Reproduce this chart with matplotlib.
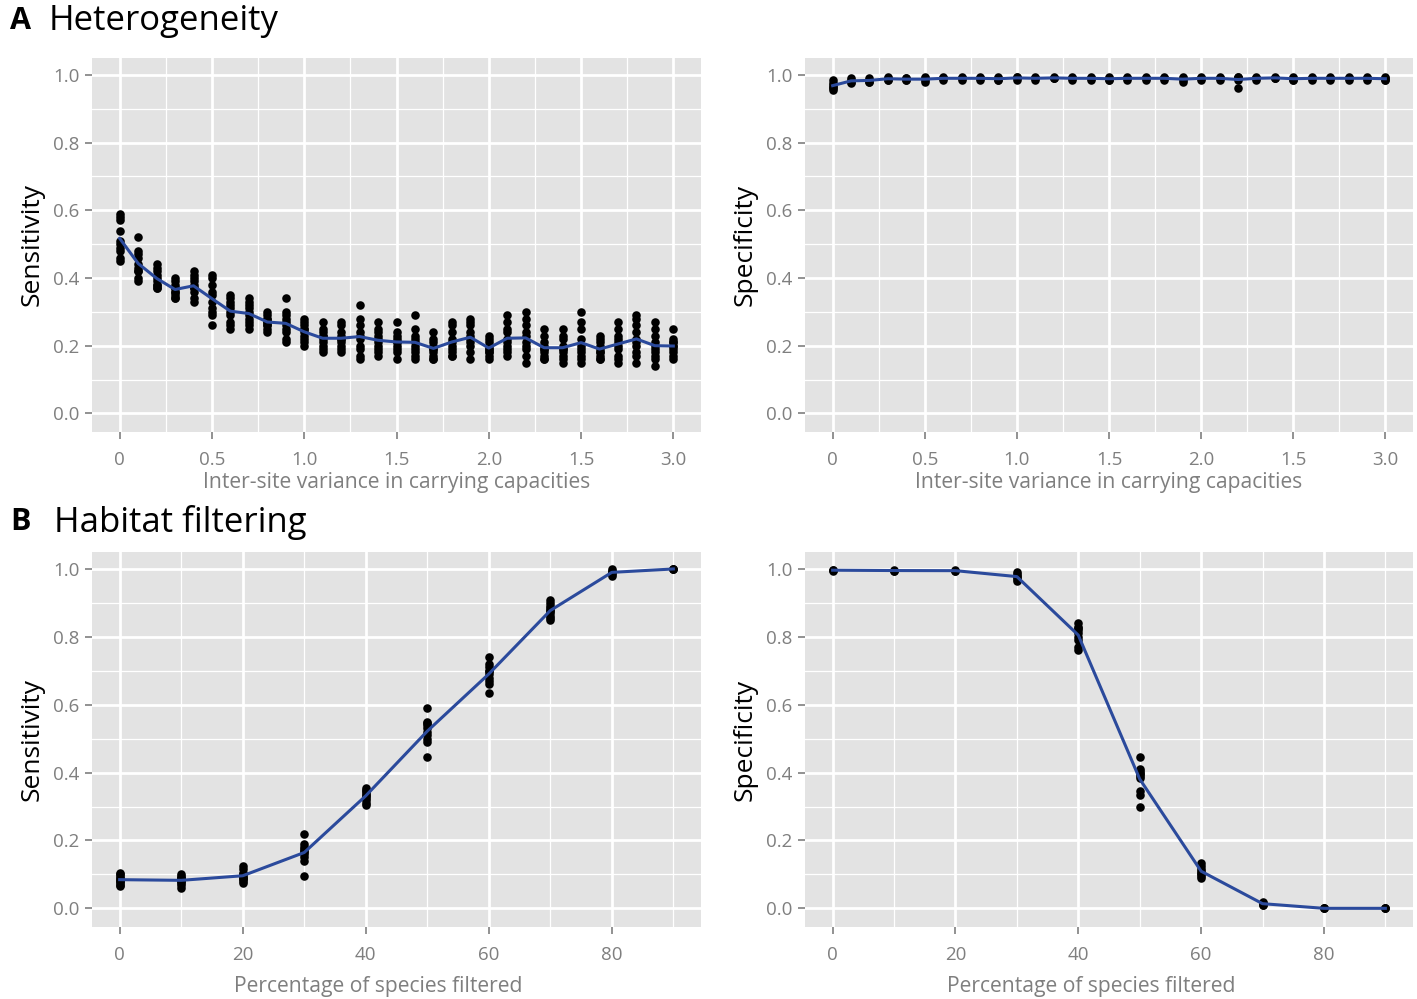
import numpy as np
import matplotlib.pyplot as plt
from matplotlib.ticker import MultipleLocator

plt.rcParams['font.family'] = ['Open Sans', 'DejaVu Sans']

# --- A: heterogeneity (inter-site variance in carrying capacities) ---
het_x = [0.0, 0.1, 0.2, 0.3, 0.4, 0.5, 0.6, 0.7, 0.8, 0.9, 1.0,
         1.1, 1.2, 1.3, 1.4, 1.5, 1.6, 1.7, 1.8, 1.9, 2.0,
         2.1, 2.2, 2.3, 2.4, 2.5, 2.6, 2.7, 2.8, 2.9, 3.0]
het_ticks = [0, 0.5, 1.0, 1.5, 2.0, 2.5, 3.0]
het_ticklabels = ['0', '0.5', '1.0', '1.5', '2.0', '1.5', '3.0']

het_sens = [
    [0.59, 0.58, 0.57, 0.54, 0.51, 0.50, 0.49, 0.48, 0.46, 0.45],
    [0.52, 0.48, 0.47, 0.46, 0.44, 0.43, 0.42, 0.40, 0.39, 0.42],
    [0.44, 0.43, 0.42, 0.41, 0.40, 0.39, 0.38, 0.38, 0.37, 0.37],
    [0.40, 0.39, 0.38, 0.37, 0.37, 0.36, 0.36, 0.35, 0.34, 0.34],
    [0.42, 0.41, 0.40, 0.39, 0.38, 0.37, 0.36, 0.34, 0.33, 0.37],
    [0.41, 0.40, 0.38, 0.36, 0.35, 0.33, 0.31, 0.30, 0.29, 0.26],
    [0.35, 0.34, 0.33, 0.32, 0.31, 0.30, 0.29, 0.27, 0.26, 0.25],
    [0.34, 0.33, 0.32, 0.31, 0.30, 0.29, 0.28, 0.27, 0.26, 0.25],
    [0.30, 0.29, 0.28, 0.28, 0.27, 0.27, 0.26, 0.26, 0.25, 0.24],
    [0.34, 0.30, 0.29, 0.28, 0.27, 0.26, 0.25, 0.24, 0.22, 0.21],
    [0.28, 0.27, 0.26, 0.25, 0.25, 0.24, 0.23, 0.22, 0.21, 0.20],
    [0.27, 0.25, 0.24, 0.23, 0.23, 0.22, 0.21, 0.20, 0.19, 0.18],
    [0.27, 0.26, 0.24, 0.23, 0.22, 0.22, 0.21, 0.20, 0.19, 0.18],
    [0.32, 0.28, 0.26, 0.24, 0.23, 0.22, 0.20, 0.19, 0.17, 0.16],
    [0.27, 0.25, 0.24, 0.23, 0.22, 0.21, 0.20, 0.19, 0.18, 0.17],
    [0.27, 0.24, 0.23, 0.22, 0.21, 0.21, 0.20, 0.19, 0.18, 0.16],
    [0.29, 0.25, 0.23, 0.22, 0.21, 0.20, 0.19, 0.18, 0.17, 0.16],
    [0.24, 0.22, 0.21, 0.20, 0.19, 0.19, 0.18, 0.17, 0.16, 0.16],
    [0.27, 0.26, 0.24, 0.22, 0.21, 0.20, 0.19, 0.18, 0.17, 0.17],
    [0.28, 0.27, 0.26, 0.24, 0.23, 0.22, 0.21, 0.20, 0.18, 0.16],
    [0.23, 0.22, 0.21, 0.20, 0.19, 0.19, 0.18, 0.18, 0.17, 0.16],
    [0.29, 0.27, 0.25, 0.24, 0.22, 0.21, 0.20, 0.19, 0.18, 0.17],
    [0.30, 0.28, 0.26, 0.24, 0.23, 0.21, 0.20, 0.19, 0.17, 0.15],
    [0.25, 0.23, 0.21, 0.20, 0.19, 0.19, 0.18, 0.17, 0.16, 0.16],
    [0.25, 0.23, 0.22, 0.20, 0.19, 0.19, 0.18, 0.17, 0.16, 0.15],
    [0.30, 0.27, 0.25, 0.22, 0.20, 0.19, 0.18, 0.17, 0.16, 0.15],
    [0.23, 0.22, 0.21, 0.20, 0.19, 0.18, 0.18, 0.17, 0.16, 0.16],
    [0.27, 0.25, 0.23, 0.22, 0.21, 0.20, 0.19, 0.17, 0.16, 0.15],
    [0.29, 0.28, 0.26, 0.24, 0.22, 0.21, 0.20, 0.18, 0.17, 0.15],
    [0.27, 0.25, 0.23, 0.21, 0.20, 0.19, 0.18, 0.17, 0.16, 0.14],
    [0.25, 0.22, 0.21, 0.21, 0.20, 0.20, 0.19, 0.18, 0.17, 0.16],
]

het_spec = [
    [0.985, 0.975, 0.97, 0.965, 0.96, 0.955],
    [0.99, 0.985, 0.98, 0.975],
    [0.99, 0.985, 0.98, 0.98],
    [0.995, 0.99, 0.985, 0.985],
    [0.99, 0.99, 0.985, 0.985],
    [0.995, 0.99, 0.985, 0.98],
    [0.995, 0.99, 0.99, 0.985],
    [0.995, 0.99, 0.99, 0.985],
    [0.995, 0.99, 0.99, 0.985],
    [0.995, 0.99, 0.985, 0.985],
    [0.995, 0.995, 0.99, 0.985],
    [0.995, 0.99, 0.99, 0.985],
    [0.995, 0.99, 0.99, 0.99],
    [0.995, 0.99, 0.99, 0.985],
    [0.995, 0.99, 0.99, 0.985],
    [0.995, 0.99, 0.985, 0.985],
    [0.995, 0.99, 0.99, 0.985],
    [0.995, 0.99, 0.99, 0.985],
    [0.995, 0.99, 0.99, 0.985],
    [0.995, 0.99, 0.985, 0.98],
    [0.995, 0.99, 0.99, 0.985],
    [0.995, 0.99, 0.99, 0.985],
    [0.995, 0.995, 0.99, 0.99, 0.99, 0.985, 0.96],
    [0.995, 0.99, 0.99, 0.985],
    [0.995, 0.99, 0.99, 0.99],
    [0.995, 0.99, 0.985, 0.985],
    [0.995, 0.99, 0.99, 0.985],
    [0.995, 0.99, 0.99, 0.985],
    [0.995, 0.99, 0.99, 0.985],
    [0.995, 0.99, 0.99, 0.985],
    [0.995, 0.99, 0.985, 0.985],
]

# --- B: habitat filtering (percentage of species filtered) ---
hab_x = [0, 10, 20, 30, 40, 50, 60, 70, 80, 90]

hab_sens = [
    [0.105, 0.10, 0.095, 0.09, 0.085, 0.08, 0.08, 0.075, 0.07, 0.065],
    [0.10, 0.095, 0.09, 0.09, 0.085, 0.08, 0.08, 0.075, 0.07, 0.06],
    [0.125, 0.115, 0.105, 0.10, 0.095, 0.09, 0.09, 0.085, 0.08, 0.075],
    [0.22, 0.19, 0.18, 0.175, 0.17, 0.165, 0.16, 0.15, 0.14, 0.095],
    [0.355, 0.35, 0.345, 0.34, 0.335, 0.33, 0.325, 0.32, 0.31, 0.305],
    [0.59, 0.55, 0.545, 0.54, 0.53, 0.52, 0.51, 0.50, 0.49, 0.445],
    [0.74, 0.72, 0.71, 0.70, 0.70, 0.69, 0.68, 0.67, 0.66, 0.635],
    [0.91, 0.90, 0.89, 0.885, 0.88, 0.875, 0.87, 0.86, 0.855, 0.85],
    [1.0, 0.995, 0.99, 0.99, 0.985, 0.98],
    [1.0, 1.0, 1.0],
]

hab_spec = [
    [0.998, 0.996, 0.995],
    [0.997, 0.995, 0.994],
    [0.996, 0.995, 0.994],
    [0.99, 0.985, 0.98, 0.975, 0.97, 0.965],
    [0.84, 0.83, 0.825, 0.82, 0.81, 0.80, 0.79, 0.77, 0.76],
    [0.445, 0.41, 0.405, 0.40, 0.395, 0.39, 0.385, 0.345, 0.335, 0.30],
    [0.135, 0.125, 0.115, 0.11, 0.105, 0.10, 0.095, 0.09],
    [0.02, 0.015, 0.01, 0.01],
    [0.0, 0.0, 0.0],
    [0.0, 0.0, 0.0],
]

LINE = '#2b4a9c'
GREY = '#7f7f7f'


def panel(ax, xs, groups, xlim, xmaj, xmin, xlabel, ylabel, ticks=None, ticklabels=None):
    ax.set_facecolor('#e3e3e3')
    for x, g in zip(xs, groups):
        ax.scatter([x] * len(g), g, s=38, color='black', zorder=3, linewidths=0)
    means = [np.mean(g) for g in groups]
    ax.plot(xs, means, color=LINE, lw=2.2, zorder=4)
    ax.set_xlim(*xlim)
    ax.set_ylim(-0.055, 1.05)
    ax.xaxis.set_major_locator(MultipleLocator(xmaj))
    ax.xaxis.set_minor_locator(MultipleLocator(xmin))
    ax.yaxis.set_major_locator(MultipleLocator(0.2))
    ax.yaxis.set_minor_locator(MultipleLocator(0.1))
    if ticks is not None:
        ax.set_xticks(ticks)
        ax.set_xticklabels(ticklabels)
    ax.set_yticks([0, 0.2, 0.4, 0.6, 0.8, 1.0])
    ax.set_yticklabels(['0.0', '0.2', '0.4', '0.6', '0.8', '1.0'])
    ax.grid(which='major', color='white', lw=2.0)
    ax.grid(which='minor', color='white', lw=0.9)
    ax.set_axisbelow(True)
    for s in ax.spines.values():
        s.set_visible(False)
    ax.tick_params(which='major', length=5, width=1.2, color=GREY,
                   labelcolor=GREY, labelsize=13.5, pad=4)
    ax.tick_params(axis='x', which='major', pad=9)
    ax.tick_params(which='minor', length=0)
    ax.set_xlabel(xlabel, fontsize=15.2, color=GREY, labelpad=2)
    ax.set_ylabel(ylabel, fontsize=19, color='black', labelpad=6)


fig = plt.figure(figsize=(14.17, 9.99), dpi=100)
W, H = 1417, 999

def add_axes(x0, x1, y0, y1):
    return fig.add_axes([x0 / W, 1 - y1 / H, (x1 - x0) / W, (y1 - y0) / H])

ax1 = add_axes(92, 701, 58, 432)
ax2 = add_axes(805, 1413, 58, 432)
ax3 = add_axes(92, 701, 552, 927)
ax4 = add_axes(805, 1413, 552, 927)

het_label = 'Inter-site variance in carrying capacities'
hab_label = 'Percentage of species filtered'

panel(ax1, het_x, het_sens, (-0.15, 3.15), 0.5, 0.25, het_label, 'Sensitivity',
      het_ticks, het_ticklabels)
panel(ax2, het_x, het_spec, (-0.15, 3.15), 0.5, 0.25, het_label, 'Specificity',
      het_ticks, het_ticklabels)
panel(ax3, hab_x, hab_sens, (-4.5, 94.5), 20, 10, hab_label, 'Sensitivity')
panel(ax4, hab_x, hab_spec, (-4.5, 94.5), 20, 10, hab_label, 'Specificity')
for ax in (ax3, ax4):
    ax.set_xticks([0, 20, 40, 60, 80])
    ax.xaxis.set_label_coords(0.47, -0.13)

fig.text(10 / W, 1 - 21 / H, 'A', fontsize=22, fontweight='bold', va='center')
fig.text(49 / W, 1 - 21 / H, 'Heterogeneity', fontsize=25, va='center')
fig.text(10 / W, 1 - 522 / H, 'B', fontsize=22, fontweight='bold', va='center')
fig.text(54 / W, 1 - 522 / H, 'Habitat filtering', fontsize=25, va='center')

fig.savefig('out.png', dpi=100)
